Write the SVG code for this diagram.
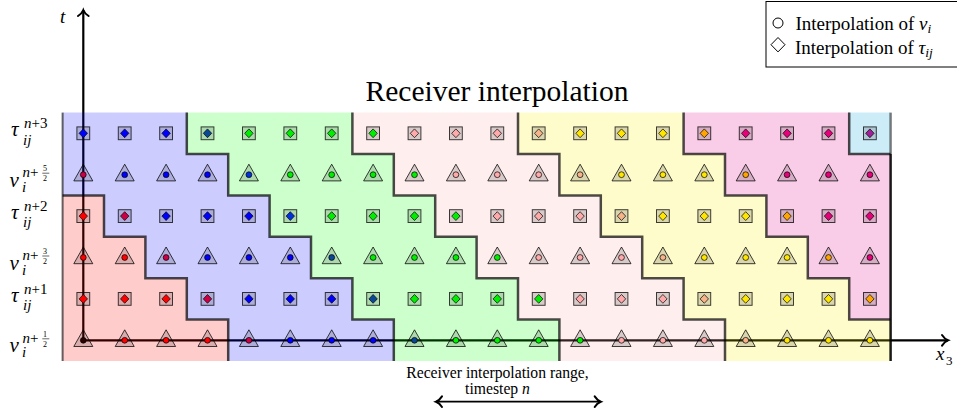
<svg xmlns="http://www.w3.org/2000/svg" xmlns:xlink="http://www.w3.org/1999/xlink" width="957" height="410" viewBox="0 0 957 410">
<style>
  text{font-family:"Liberation Serif","Times New Roman",serif;fill:#000}
  .mi{font-style:italic}
  .mk{fill:#000;fill-opacity:.15;stroke:#000;stroke-opacity:.75;stroke-width:1}
  .sym{stroke:#000;stroke-width:.7}
  .stair{fill:none;stroke:#000;stroke-opacity:.7;stroke-width:2.5;stroke-linejoin:miter}
  .ax{fill:none;stroke:#000;stroke-width:2.2}
  .big{font-size:21px}
  .sm{font-size:15px}
  .fr{font-size:8px}
  .bar{stroke:#000;stroke-width:.6}
  .dk{fill:#2a0000}.rd{fill:#ff0000}.cr{fill:#cc0044}.bl{fill:#0000ff}.tl{fill:#0a4896}.b2{fill:#0030e0}
  .gr{fill:#00ee00}.pk{fill:#ffaaaa}.pe{fill:#f7b48a}.ye{fill:#ffe600}.or{fill:#ffa500}.mg{fill:#e6007a}.pu{fill:#a0209a}
</style>
<defs>
  <marker id="tip" viewBox="-8 -7 10 14" markerWidth="10" markerHeight="14" refX="0" refY="0" orient="auto-start-reverse" markerUnits="userSpaceOnUse" overflow="visible">
    <path d="M-6,-5.3 C-4,-2.2 -1.6,-0.6 0,0 C-1.6,0.6 -4,2.2 -6,5.3" fill="none" stroke="#000" stroke-width="2" stroke-linecap="round"/>
  </marker>
  <rect id="sq" class="mk" x="-6.4" y="-6.4" width="12.8" height="12.8"/>
  <path id="tri" class="mk" d="M0,-10.5 L9.5,6.2 L-9.5,6.2 Z"/>
  <path id="dm" class="sym" d="M0,-4.4 L4.2,0 L0,4.4 L-4.2,0 Z"/>
  <circle id="dot" class="sym" r="2.9"/>
</defs>

<rect width="957" height="410" fill="#fff"/>

<!-- axes (drawn below the translucent timestep regions) -->
<g id="axes">
  <path class="ax" d="M83.3,340.3 V10" marker-end="url(#tip)"/>
  <path class="ax" d="M83.3,340.3 H948" marker-end="url(#tip)"/>
</g>

<!-- timestep regions -->
<g id="regions">
  <path id="region-red" fill="#ff0000" fill-opacity=".2" d="M62.6,195.4 H104 V236.8 H145.4 V278.2 H186.8 V319.6 H228.2 V361 H62.6 Z"/>
  <path id="region-blue" fill="#0000ff" fill-opacity=".2" d="M62.6,112.6 H186.8 V154 H228.2 V195.4 H269.6 V236.8 H311 V278.2 H352.4 V319.6 H393.8 V361 H228.2 V319.6 H186.8 V278.2 H145.4 V236.8 H104 V195.4 H62.6 Z"/>
  <path id="region-green" fill="#00ff00" fill-opacity=".2" d="M186.8,112.6 H352.4 V154 H393.8 V195.4 H435.2 V236.8 H476.6 V278.2 H518 V319.6 H559.4 V361 H393.8 V319.6 H352.4 V278.2 H311 V236.8 H269.6 V195.4 H228.2 V154 H186.8 Z"/>
  <path id="region-rose" fill="#ffaaaa" fill-opacity=".2" d="M352.4,112.6 H518 V154 H559.4 V195.4 H600.8 V236.8 H642.2 V278.2 H683.6 V319.6 H725 V361 H559.4 V319.6 H518 V278.2 H476.6 V236.8 H435.2 V195.4 H393.8 V154 H352.4 Z"/>
  <path id="region-yellow" fill="#ffee00" fill-opacity=".2" d="M518,112.6 H683.6 V154 H725 V195.4 H766.4 V236.8 H807.8 V278.2 H849.2 V319.6 H890.6 V361 H725 V319.6 H683.6 V278.2 H642.2 V236.8 H600.8 V195.4 H559.4 V154 H518 Z"/>
  <path id="region-magenta" fill="#e10087" fill-opacity=".2" d="M683.6,112.6 H849.2 V154 H890.6 V319.6 H849.2 V278.2 H807.8 V236.8 H766.4 V195.4 H725 V154 H683.6 Z"/>
  <path id="region-cyan" fill="#00a0dc" fill-opacity=".2" d="M849.2,112.6 H890.6 V154 H849.2 Z"/>
</g>

<!-- region boundaries -->
<g id="boundaries">
  <path class="stair" d="M62.6,195.4 H104 V236.8 H145.4 V278.2 H186.8 V319.6 H228.2 V361"/>
  <path class="stair" d="M186.8,112.6 V154 H228.2 V195.4 H269.6 V236.8 H311 V278.2 H352.4 V319.6 H393.8 V361"/>
  <path class="stair" d="M352.4,112.6 V154 H393.8 V195.4 H435.2 V236.8 H476.6 V278.2 H518 V319.6 H559.4 V361"/>
  <path class="stair" d="M518,112.6 V154 H559.4 V195.4 H600.8 V236.8 H642.2 V278.2 H683.6 V319.6 H725 V361"/>
  <path class="stair" d="M683.6,112.6 V154 H725 V195.4 H766.4 V236.8 H807.8 V278.2 H849.2 V319.6 H890.6"/>
  <path class="stair" d="M849.2,112.6 V154 H890.6"/>
  <path fill="none" stroke="#000" stroke-opacity=".6" stroke-width="2" d="M62.6,112.6 V361"/>
  <path fill="none" stroke="#000" stroke-opacity=".5" stroke-width="2.5" d="M890.6,112.6 V154"/>
  <path fill="none" stroke="#000" stroke-opacity=".9" stroke-width="2.5" d="M890.6,154 V361"/>
</g>

<!-- tau^{n+3} -->
<g id="row-tau-n3" transform="translate(0 133.3)">
  <use href="#sq" x="83.3"/><use href="#dm" class="bl" x="83.3"/>
  <use href="#sq" x="124.7"/><use href="#dm" class="bl" x="124.7"/>
  <use href="#sq" x="166.1"/><use href="#dm" class="bl" x="166.1"/>
  <use href="#sq" x="207.5"/><use href="#dm" class="tl" x="207.5"/>
  <use href="#sq" x="248.9"/><use href="#dm" class="gr" x="248.9"/>
  <use href="#sq" x="290.3"/><use href="#dm" class="gr" x="290.3"/>
  <use href="#sq" x="331.7"/><use href="#dm" class="gr" x="331.7"/>
  <use href="#sq" x="373.1"/><use href="#dm" class="gr" x="373.1"/>
  <use href="#sq" x="414.5"/><use href="#dm" class="pk" x="414.5"/>
  <use href="#sq" x="455.9"/><use href="#dm" class="pk" x="455.9"/>
  <use href="#sq" x="497.3"/><use href="#dm" class="pk" x="497.3"/>
  <use href="#sq" x="538.7"/><use href="#dm" class="pe" x="538.7"/>
  <use href="#sq" x="580.1"/><use href="#dm" class="ye" x="580.1"/>
  <use href="#sq" x="621.5"/><use href="#dm" class="ye" x="621.5"/>
  <use href="#sq" x="662.9"/><use href="#dm" class="ye" x="662.9"/>
  <use href="#sq" x="704.3"/><use href="#dm" class="or" x="704.3"/>
  <use href="#sq" x="745.7"/><use href="#dm" class="mg" x="745.7"/>
  <use href="#sq" x="787.1"/><use href="#dm" class="mg" x="787.1"/>
  <use href="#sq" x="828.5"/><use href="#dm" class="mg" x="828.5"/>
  <use href="#sq" x="869.9"/><use href="#dm" class="pu" x="869.9"/>
</g>

<!-- v^{n+5/2} -->
<g id="row-v-n52" transform="translate(0 174.7)">
  <use href="#tri" x="83.3"/><use href="#dot" class="cr" x="83.3"/>
  <use href="#tri" x="124.7"/><use href="#dot" class="bl" x="124.7"/>
  <use href="#tri" x="166.1"/><use href="#dot" class="bl" x="166.1"/>
  <use href="#tri" x="207.5"/><use href="#dot" class="bl" x="207.5"/>
  <use href="#tri" x="248.9"/><use href="#dot" class="b2" x="248.9"/>
  <use href="#tri" x="290.3"/><use href="#dot" class="gr" x="290.3"/>
  <use href="#tri" x="331.7"/><use href="#dot" class="gr" x="331.7"/>
  <use href="#tri" x="373.1"/><use href="#dot" class="gr" x="373.1"/>
  <use href="#tri" x="414.5"/><use href="#dot" class="gr" x="414.5"/>
  <use href="#tri" x="455.9"/><use href="#dot" class="pk" x="455.9"/>
  <use href="#tri" x="497.3"/><use href="#dot" class="pk" x="497.3"/>
  <use href="#tri" x="538.7"/><use href="#dot" class="pk" x="538.7"/>
  <use href="#tri" x="580.1"/><use href="#dot" class="pe" x="580.1"/>
  <use href="#tri" x="621.5"/><use href="#dot" class="ye" x="621.5"/>
  <use href="#tri" x="662.9"/><use href="#dot" class="ye" x="662.9"/>
  <use href="#tri" x="704.3"/><use href="#dot" class="ye" x="704.3"/>
  <use href="#tri" x="745.7"/><use href="#dot" class="or" x="745.7"/>
  <use href="#tri" x="787.1"/><use href="#dot" class="mg" x="787.1"/>
  <use href="#tri" x="828.5"/><use href="#dot" class="mg" x="828.5"/>
  <use href="#tri" x="869.9"/><use href="#dot" class="mg" x="869.9"/>
</g>

<!-- tau^{n+2} -->
<g id="row-tau-n2" transform="translate(0 216.1)">
  <use href="#sq" x="83.3"/><use href="#dm" class="rd" x="83.3"/>
  <use href="#sq" x="124.7"/><use href="#dm" class="cr" x="124.7"/>
  <use href="#sq" x="166.1"/><use href="#dm" class="bl" x="166.1"/>
  <use href="#sq" x="207.5"/><use href="#dm" class="bl" x="207.5"/>
  <use href="#sq" x="248.9"/><use href="#dm" class="bl" x="248.9"/>
  <use href="#sq" x="290.3"/><use href="#dm" class="b2" x="290.3"/>
  <use href="#sq" x="331.7"/><use href="#dm" class="gr" x="331.7"/>
  <use href="#sq" x="373.1"/><use href="#dm" class="gr" x="373.1"/>
  <use href="#sq" x="414.5"/><use href="#dm" class="gr" x="414.5"/>
  <use href="#sq" x="455.9"/><use href="#dm" class="gr" x="455.9"/>
  <use href="#sq" x="497.3"/><use href="#dm" class="pk" x="497.3"/>
  <use href="#sq" x="538.7"/><use href="#dm" class="pk" x="538.7"/>
  <use href="#sq" x="580.1"/><use href="#dm" class="pk" x="580.1"/>
  <use href="#sq" x="621.5"/><use href="#dm" class="pe" x="621.5"/>
  <use href="#sq" x="662.9"/><use href="#dm" class="ye" x="662.9"/>
  <use href="#sq" x="704.3"/><use href="#dm" class="ye" x="704.3"/>
  <use href="#sq" x="745.7"/><use href="#dm" class="ye" x="745.7"/>
  <use href="#sq" x="787.1"/><use href="#dm" class="or" x="787.1"/>
  <use href="#sq" x="828.5"/><use href="#dm" class="mg" x="828.5"/>
  <use href="#sq" x="869.9"/><use href="#dm" class="mg" x="869.9"/>
</g>

<!-- v^{n+3/2} -->
<g id="row-v-n32" transform="translate(0 257.5)">
  <use href="#tri" x="83.3"/><use href="#dot" class="rd" x="83.3"/>
  <use href="#tri" x="124.7"/><use href="#dot" class="rd" x="124.7"/>
  <use href="#tri" x="166.1"/><use href="#dot" class="cr" x="166.1"/>
  <use href="#tri" x="207.5"/><use href="#dot" class="bl" x="207.5"/>
  <use href="#tri" x="248.9"/><use href="#dot" class="bl" x="248.9"/>
  <use href="#tri" x="290.3"/><use href="#dot" class="bl" x="290.3"/>
  <use href="#tri" x="331.7"/><use href="#dot" class="tl" x="331.7"/>
  <use href="#tri" x="373.1"/><use href="#dot" class="gr" x="373.1"/>
  <use href="#tri" x="414.5"/><use href="#dot" class="gr" x="414.5"/>
  <use href="#tri" x="455.9"/><use href="#dot" class="gr" x="455.9"/>
  <use href="#tri" x="497.3"/><use href="#dot" class="gr" x="497.3"/>
  <use href="#tri" x="538.7"/><use href="#dot" class="pk" x="538.7"/>
  <use href="#tri" x="580.1"/><use href="#dot" class="pk" x="580.1"/>
  <use href="#tri" x="621.5"/><use href="#dot" class="pk" x="621.5"/>
  <use href="#tri" x="662.9"/><use href="#dot" class="pe" x="662.9"/>
  <use href="#tri" x="704.3"/><use href="#dot" class="ye" x="704.3"/>
  <use href="#tri" x="745.7"/><use href="#dot" class="ye" x="745.7"/>
  <use href="#tri" x="787.1"/><use href="#dot" class="ye" x="787.1"/>
  <use href="#tri" x="828.5"/><use href="#dot" class="or" x="828.5"/>
  <use href="#tri" x="869.9"/><use href="#dot" class="mg" x="869.9"/>
</g>

<!-- tau^{n+1} -->
<g id="row-tau-n1" transform="translate(0 298.9)">
  <use href="#sq" x="83.3"/><use href="#dm" class="rd" x="83.3"/>
  <use href="#sq" x="124.7"/><use href="#dm" class="rd" x="124.7"/>
  <use href="#sq" x="166.1"/><use href="#dm" class="rd" x="166.1"/>
  <use href="#sq" x="207.5"/><use href="#dm" class="cr" x="207.5"/>
  <use href="#sq" x="248.9"/><use href="#dm" class="bl" x="248.9"/>
  <use href="#sq" x="290.3"/><use href="#dm" class="bl" x="290.3"/>
  <use href="#sq" x="331.7"/><use href="#dm" class="bl" x="331.7"/>
  <use href="#sq" x="373.1"/><use href="#dm" class="tl" x="373.1"/>
  <use href="#sq" x="414.5"/><use href="#dm" class="gr" x="414.5"/>
  <use href="#sq" x="455.9"/><use href="#dm" class="gr" x="455.9"/>
  <use href="#sq" x="497.3"/><use href="#dm" class="gr" x="497.3"/>
  <use href="#sq" x="538.7"/><use href="#dm" class="gr" x="538.7"/>
  <use href="#sq" x="580.1"/><use href="#dm" class="pk" x="580.1"/>
  <use href="#sq" x="621.5"/><use href="#dm" class="pk" x="621.5"/>
  <use href="#sq" x="662.9"/><use href="#dm" class="pk" x="662.9"/>
  <use href="#sq" x="704.3"/><use href="#dm" class="pe" x="704.3"/>
  <use href="#sq" x="745.7"/><use href="#dm" class="ye" x="745.7"/>
  <use href="#sq" x="787.1"/><use href="#dm" class="ye" x="787.1"/>
  <use href="#sq" x="828.5"/><use href="#dm" class="ye" x="828.5"/>
  <use href="#sq" x="869.9"/><use href="#dm" class="or" x="869.9"/>
</g>

<!-- v^{n+1/2} -->
<g id="row-v-n12" transform="translate(0 340.3)">
  <use href="#tri" x="83.3"/><use href="#dot" class="dk" x="83.3"/>
  <use href="#tri" x="124.7"/><use href="#dot" class="rd" x="124.7"/>
  <use href="#tri" x="166.1"/><use href="#dot" class="rd" x="166.1"/>
  <use href="#tri" x="207.5"/><use href="#dot" class="rd" x="207.5"/>
  <use href="#tri" x="248.9"/><use href="#dot" class="cr" x="248.9"/>
  <use href="#tri" x="290.3"/><use href="#dot" class="bl" x="290.3"/>
  <use href="#tri" x="331.7"/><use href="#dot" class="bl" x="331.7"/>
  <use href="#tri" x="373.1"/><use href="#dot" class="bl" x="373.1"/>
  <use href="#tri" x="414.5"/><use href="#dot" class="tl" x="414.5"/>
  <use href="#tri" x="455.9"/><use href="#dot" class="gr" x="455.9"/>
  <use href="#tri" x="497.3"/><use href="#dot" class="gr" x="497.3"/>
  <use href="#tri" x="538.7"/><use href="#dot" class="gr" x="538.7"/>
  <use href="#tri" x="580.1"/><use href="#dot" class="gr" x="580.1"/>
  <use href="#tri" x="621.5"/><use href="#dot" class="pk" x="621.5"/>
  <use href="#tri" x="662.9"/><use href="#dot" class="pk" x="662.9"/>
  <use href="#tri" x="704.3"/><use href="#dot" class="pk" x="704.3"/>
  <use href="#tri" x="745.7"/><use href="#dot" class="pe" x="745.7"/>
  <use href="#tri" x="787.1"/><use href="#dot" class="ye" x="787.1"/>
  <use href="#tri" x="828.5"/><use href="#dot" class="ye" x="828.5"/>
  <use href="#tri" x="869.9"/><use href="#dot" class="ye" x="869.9"/>
</g>

<!-- row labels -->
<g id="row-labels">
  <text class="mi big" x="11" y="136">τ</text>
  <text class="sm" x="24" y="128"><tspan class="mi">n</tspan>+3</text>
  <text class="mi sm" x="23" y="144.5">ij</text>

  <text class="mi big" x="9.5" y="186.7">v</text>
  <text class="mi sm" x="22" y="191.7">i</text>
  <text class="sm" x="22.5" y="177.2"><tspan class="mi">n</tspan>+</text>
  <text class="fr" x="43" y="171.4">5</text>
  <path class="bar" d="M42.3,173.2 H49.3"/>
  <text class="fr" x="43" y="181">2</text>

  <text class="mi big" x="11" y="218.8">τ</text>
  <text class="sm" x="24" y="210.8"><tspan class="mi">n</tspan>+2</text>
  <text class="mi sm" x="23" y="227.3">ij</text>

  <text class="mi big" x="9.5" y="269.5">v</text>
  <text class="mi sm" x="22" y="274.5">i</text>
  <text class="sm" x="22.5" y="260"><tspan class="mi">n</tspan>+</text>
  <text class="fr" x="43" y="254.2">3</text>
  <path class="bar" d="M42.3,256 H49.3"/>
  <text class="fr" x="43" y="263.8">2</text>

  <text class="mi big" x="11" y="301.6">τ</text>
  <text class="sm" x="24" y="293.6"><tspan class="mi">n</tspan>+1</text>
  <text class="mi sm" x="23" y="310.1">ij</text>

  <text class="mi big" x="9.5" y="352.3">v</text>
  <text class="mi sm" x="22" y="357.3">i</text>
  <text class="sm" x="22.5" y="342.8"><tspan class="mi">n</tspan>+</text>
  <text class="fr" x="43" y="337">1</text>
  <path class="bar" d="M42.3,338.8 H49.3"/>
  <text class="fr" x="43" y="346.6">2</text>
</g>

<!-- axis labels -->
<g id="axis-labels">
  <text class="mi" x="60" y="23" font-size="19">t</text>
  <text class="mi" x="936" y="360" font-size="19">x</text>
  <text x="946" y="364.5" font-size="13">3</text>
</g>

<!-- title -->
<g id="title">
  <text x="497" y="101" font-size="29.5" text-anchor="middle">Receiver interpolation</text>
</g>

<!-- legend -->
<g id="legend">
  <rect x="766" y="1.5" width="200" height="65.5" fill="#fff" stroke="#000" stroke-width="1"/>
  <circle cx="778" cy="23" r="5" fill="none" stroke="#000" stroke-width="1"/>
  <path d="M778,37.5 L785,44.7 L778,51.9 L771,44.7 Z" fill="none" stroke="#000" stroke-width="1"/>
  <text x="795.5" y="29.5" font-size="19">Interpolation of <tspan class="mi">v</tspan><tspan class="mi" font-size="13.5" dy="3">i</tspan></text>
  <text x="795" y="54" font-size="19">Interpolation of <tspan class="mi">τ</tspan><tspan class="mi" font-size="13.5" dy="3">ij</tspan></text>
</g>

<!-- receiver interpolation range annotation -->
<g id="range-note">
  <text x="497.5" y="378" font-size="15.7" text-anchor="middle">Receiver interpolation range,</text>
  <text x="497.5" y="393.5" font-size="15.7" text-anchor="middle">timestep <tspan class="mi">n</tspan></text>
  <path d="M436,401.7 H600.7" fill="none" stroke="#000" stroke-width="1.8" marker-start="url(#tip)" marker-end="url(#tip)"/>
</g>
</svg>
